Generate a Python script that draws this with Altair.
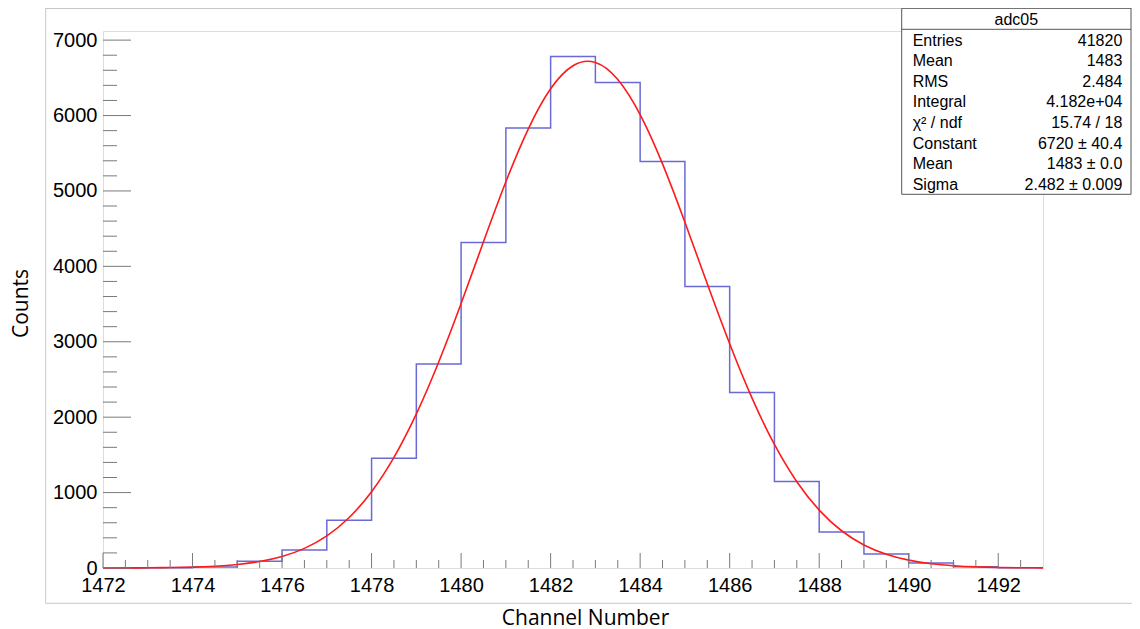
import altair as alt
import pandas as pd

# ---------------- data ----------------
bin_low = [1472, 1473, 1474, 1475, 1476, 1477, 1478, 1479, 1480, 1481, 1482,
           1483, 1484, 1485, 1486, 1487, 1488, 1489, 1490, 1491, 1492]
counts = [1, 4, 14, 89, 239, 633, 1455, 2706, 4316, 5836, 6782,
          6438, 5390, 3732, 2326, 1146, 477, 186, 66, 16, 3]

fit_x = [1472.0, 1472.5, 1473.0, 1473.5, 1474.0, 1474.5, 1475.0, 1475.5,
         1476.0, 1476.5, 1477.0, 1477.5, 1478.0, 1478.5, 1479.0, 1479.5,
         1480.0, 1480.5, 1481.0, 1481.5, 1482.0, 1482.5, 1483.0, 1483.5,
         1484.0, 1484.5, 1485.0, 1485.5, 1486.0, 1486.5, 1487.0, 1487.5,
         1488.0, 1488.5, 1489.0, 1489.5, 1490.0, 1490.5, 1491.0, 1491.5,
         1492.0, 1492.5, 1493.0]
fit_y = [0.5, 1.2, 2.6, 5.7, 12, 24, 46, 86,
         152, 260, 426, 670, 1012, 1467, 2043, 2732,
         3508, 4325, 5121, 5821, 6355, 6661, 6704, 6479,
         6013, 5359, 4585, 3768, 2973, 2252, 1638, 1144,
         768, 494, 306, 182, 104, 57, 30, 15,
         7.3, 3.4, 1.5]

x_major = [1472, 1474, 1476, 1478, 1480, 1482, 1484, 1486, 1488, 1490, 1492]
x_minor = [v / 2 for v in range(2 * 1472, 2 * 1493) if v % 4 != 0]
y_major = [0, 1000, 2000, 3000, 4000, 5000, 6000, 7000]
y_minor = [v for v in range(200, 7000, 200) if v % 1000 != 0]

stats_title = "adc05"
stat_names = ["Entries", "Mean", "RMS", "Integral", "\u03c7\u00b2 / ndf",
              "Constant", "Mean", "Sigma"]
stat_values = ["41820", "1483", "2.484", "4.182e+04", "15.74 / 18",
               "6720 \u00b1 40.4", "1483 \u00b1 0.0", "2.482 \u00b1 0.009"]

x_domain = [1472, 1493]
y_domain = [0, 7121]

# ---------------- chart ----------------
W, H = 940, 537
LABEL_FONT = "Liberation Sans"
TITLE_FONT = "Open Sans"

hist_df = pd.DataFrame({
    "edge": bin_low + [bin_low[-1] + 1],
    "count": counts + [counts[-1]],
})
fit_df = pd.DataFrame({"x": fit_x, "y": fit_y})

xscale = alt.Scale(domain=x_domain, nice=False, zero=False)
yscale = alt.Scale(domain=y_domain, nice=False, zero=False)

xaxis = alt.Axis(
    values=x_major, format="d", grid=False, ticks=False, domain=False,
    labelFont=LABEL_FONT, labelFontSize=20, labelColor="black",
    labelPadding=7, labelFlush=False, labelOverlap=False,
    title="Channel Number", titleFont=TITLE_FONT, titleFontSize=21,
    titleFontWeight="normal", titleColor="black",
    titleX=482, titleY=56, titleAlign="center", titleBaseline="alphabetic",
)
yaxis = alt.Axis(
    values=y_major, format="d", grid=False, ticks=False, domain=False,
    labelFont=LABEL_FONT, labelFontSize=20, labelColor="black",
    labelPadding=6, labelFlush=False, labelOverlap=False,
    title="Counts", titleFont=TITLE_FONT, titleFontSize=21,
    titleFontWeight="normal", titleColor="black",
    titleX=-75.5, titleY=272, titleAngle=270, titleAlign="center",
    titleBaseline="alphabetic",
)

hist = alt.Chart(hist_df).mark_line(
    interpolate="step-after", color="#6a6ad4", strokeWidth=1.5
).encode(
    x=alt.X("edge:Q", scale=xscale, axis=xaxis),
    y=alt.Y("count:Q", scale=yscale, axis=yaxis),
)

fit = alt.Chart(fit_df).mark_line(
    interpolate="natural", color="#ff1a1a", strokeWidth=1.6
).encode(
    x=alt.X("x:Q", scale=xscale, axis=xaxis),
    y=alt.Y("y:Q", scale=yscale, axis=yaxis),
)

TICK = "#7a7a7a"
xt_major = alt.Chart(pd.DataFrame({"v": x_major})).mark_rule(color=TICK).encode(
    x=alt.X("v:Q", scale=xscale, axis=xaxis), y=alt.value(H), y2=alt.value(H - 15))
xt_minor = alt.Chart(pd.DataFrame({"v": x_minor})).mark_rule(color=TICK).encode(
    x=alt.X("v:Q", scale=xscale, axis=xaxis), y=alt.value(H), y2=alt.value(H - 8))
yt_major = alt.Chart(pd.DataFrame({"v": y_major})).mark_rule(color=TICK).encode(
    y=alt.Y("v:Q", scale=yscale, axis=yaxis), x=alt.value(0), x2=alt.value(28))
yt_minor = alt.Chart(pd.DataFrame({"v": y_minor})).mark_rule(color=TICK).encode(
    y=alt.Y("v:Q", scale=yscale, axis=yaxis), x=alt.value(0), x2=alt.value(14))

one = alt.Data(values=[{}])
FRAME = "#c8c8c8"
outer_left = alt.Chart(one).mark_rule(color=FRAME).encode(
    x=alt.value(-57.3), y=alt.value(-23), y2=alt.value(572.3))
outer_bottom = alt.Chart(one).mark_rule(color=FRAME).encode(
    x=alt.value(-57.3), x2=alt.value(1030), y=alt.value(572.3))
outer_top = alt.Chart(one).mark_rule(color=FRAME).encode(
    x=alt.value(-57.3), x2=alt.value(1030), y=alt.value(-22.5))

BOX = "#555555"
box = alt.Chart(one).mark_rect(fill="white", stroke=BOX, strokeWidth=1).encode(
    x=alt.value(798.7), x2=alt.value(1028), y=alt.value(-22.7), y2=alt.value(163.3))
box_sep = alt.Chart(one).mark_rule(color=BOX).encode(
    x=alt.value(798.7), x2=alt.value(1028), y=alt.value(-1.7))
box_title = alt.Chart(one).mark_text(
    align="center", baseline="alphabetic", font=LABEL_FONT, fontSize=16, color="black"
).encode(x=alt.value(913.3), y=alt.value(-6), text=alt.value(stats_title))
box_names = alt.Chart(one).mark_text(
    align="left", baseline="alphabetic", font=LABEL_FONT, fontSize=16,
    lineHeight=20.6, color="black"
).encode(x=alt.value(809.7), y=alt.value(14.7), text=alt.value(stat_names))
box_vals = alt.Chart(one).mark_text(
    align="right", baseline="alphabetic", font=LABEL_FONT, fontSize=16,
    lineHeight=20.6, color="black"
).encode(x=alt.value(1019.3), y=alt.value(14.7), text=alt.value(stat_values))

chart = alt.layer(
    hist, fit,
    outer_left, outer_bottom, outer_top,
    xt_minor, xt_major, yt_minor, yt_major,
    box, box_sep, box_title, box_names, box_vals,
).properties(
    width=W, height=H,
    autosize=alt.AutoSizeParams(type="none"),
    padding={"left": 95, "top": 23, "right": 89, "bottom": 58},
).configure_view(
    stroke="#808080", strokeWidth=1
).configure(
    background="white"
)

chart.save("out.html", embed_options={"renderer": "svg", "actions": False})
